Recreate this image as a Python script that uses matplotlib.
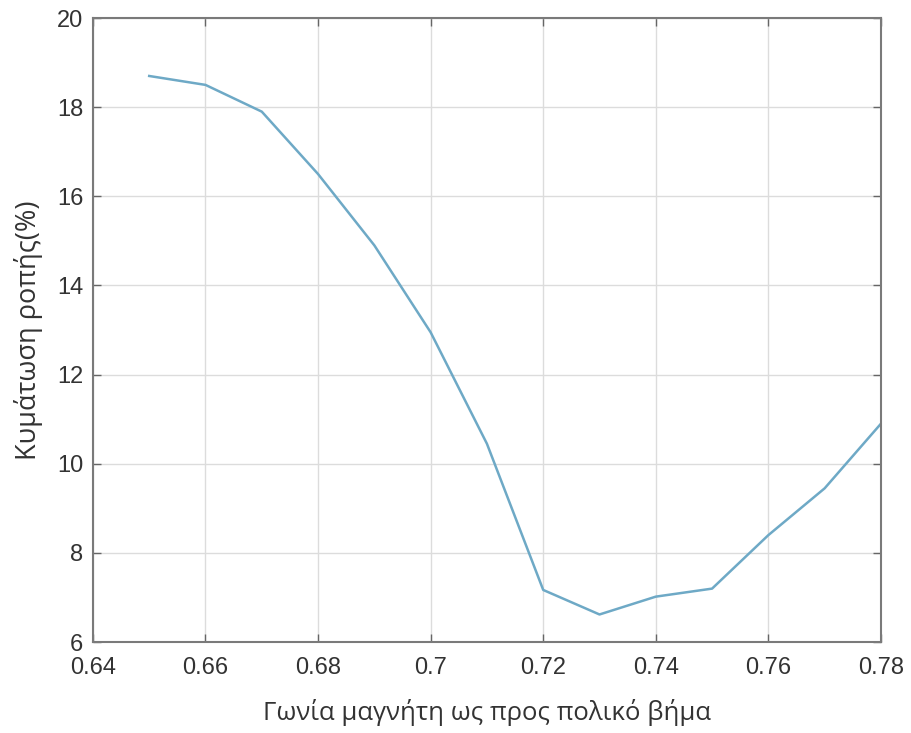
import matplotlib
matplotlib.use("Agg")
import matplotlib.pyplot as plt

angle = [0.65, 0.66, 0.67, 0.68, 0.69, 0.70, 0.71,
         0.72, 0.73, 0.74, 0.75, 0.76, 0.77, 0.78]
ripple = [18.7, 18.5, 17.9, 16.5, 14.9, 12.95, 10.45,
          7.17, 6.62, 7.02, 7.2, 8.4, 9.45, 10.9]

xticks = [0.64, 0.66, 0.68, 0.7, 0.72, 0.74, 0.76, 0.78]
xticklabels = ["0.64", "0.66", "0.68", "0.7", "0.72", "0.74", "0.76", "0.78"]
yticks = [6, 8, 10, 12, 14, 16, 18, 20]

plt.rcParams["font.family"] = ["Liberation Sans", "DejaVu Sans"]

fig = plt.figure(figsize=(9.11, 7.33), dpi=100)
ax = fig.add_axes([0.102, 0.124, 0.865, 0.8514])

ax.plot(angle, ripple, color="#6ea9c6", linewidth=1.8)

ax.set_xlim(0.64, 0.78)
ax.set_ylim(6, 20)
ax.set_xticks(xticks)
ax.set_xticklabels(xticklabels)
ax.set_yticks(yticks)

ax.grid(True, color="#dcdcdc", linewidth=1.0)
ax.set_axisbelow(True)
ax.tick_params(direction="in", top=True, right=True, length=6, width=1,
               labelsize=17, colors="#666666", labelcolor="#333333", pad=7)
ax.tick_params(axis="x", pad=11)
for s in ax.spines.values():
    s.set_color("#7a7a7a")
    s.set_linewidth(1.5)

label_font = ["Open Sans", "Liberation Sans", "DejaVu Sans"]
ax.set_xlabel("Γωνία μαγνήτη ως προς πολικό βήμα", fontsize=18.5,
              family=label_font, color="#333333", labelpad=14)
ax.set_ylabel("Κυμάτωση ροπής(%)", fontsize=19.5, family=label_font,
              color="#333333", labelpad=10)

fig.savefig("out.png", dpi=100)
plt.close(fig)
